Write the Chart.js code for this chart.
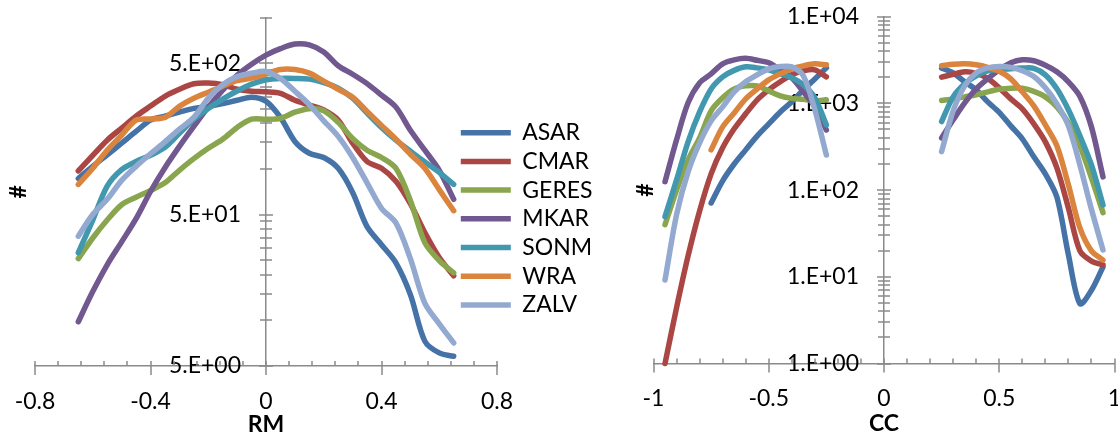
<!DOCTYPE html>
<html><head><meta charset="utf-8">
<script src="https://cdn.jsdelivr.net/npm/chart.js@4.4.1/dist/chart.umd.min.js"></script>
<style>
html,body{margin:0;padding:0;background:#fff;}
#wrap{position:relative;width:1118px;height:437px;overflow:hidden;background:#fff;}
canvas{position:absolute;left:0;top:0;}
</style></head><body>
<div id="wrap"><canvas id="rm" width="1118" height="437"></canvas><canvas id="cc" width="1118" height="437"></canvas></div>
<script>
// ---------- series ----------
const seriesNames  = ['ASAR','CMAR','GERES','MKAR','SONM','WRA','ZALV'];
const seriesColors = ['#4572A7','#AA4643','#89A54E','#71588F','#4198AF','#DB843D','#93A9CF'];

// ---------- left panel: RM ----------
const rmX = [-0.65,-0.6,-0.55,-0.5,-0.45,-0.4,-0.35,-0.3,-0.25,-0.2,-0.15,-0.1,-0.05,0,0.05,0.1,0.15,0.2,0.25,0.3,0.35,0.4,0.45,0.5,0.55,0.6,0.65];
const rmASAR  = [86.5,104,124,148,177,210,223,237,251,259,270,284,298,280,219,152,127,119,101,70,41.6,31.6,24,14.8,7.3,6.1,5.8];
const rmCMAR  = [97,123,155,186,223,260,302,336,365,369,360,336,326,323,316,284,264,245,210,148,112,101,83,59,38,26,19.7];
const rmGERES = [25.6,35,46,58,65,72,81,98,117,137,157,188,213,213,216,237,250,242,203,159,133,119,101,62,32.6,24.8,20.6];
const rmMKAR  = [9.8,15.5,23.3,33,47,71,102,141,191,256,331,416,492,565,623,668,659,591,480,422,366,307,256,180,133,98,63];
const rmSONM  = [28,46,77,99,112,123,139,172,213,251,289,327,363,388,396,396,392,371,341,293,234,188,155,131,111,95,79];
const rmWRA   = [79,101,133,167,210,214,219,259,293,321,352,383,398,423,453,453,429,380,336,298,240,194,157,125,101,73,53];
const rmZALV  = [36,50,63,84,104,126,151,183,219,293,360,407,429,440,396,326,266,208,164,119,81,55,44,25.6,13,9.5,7.1];

const rmXTicks      = [-0.8,-0.4,0,0.4,0.8];
const rmXTickLabels = ['-0.8','-0.4','0','0.4','0.8'];
const rmXMinorTicks = [-0.72,-0.64,-0.56,-0.48,-0.32,-0.24,-0.16,-0.08,0.08,0.16,0.24,0.32,0.48,0.56,0.64,0.72];
const rmYTicks      = [5,50,500];
const rmYTickLabels = ['5.E+00','5.E+01','5.E+02'];
const rmYMinorTicks = [10,15,20,25,30,35,40,45,100,150,200,250,300,350,400,450,1000];

// ---------- right panel: CC ----------
const ccX = [-0.95,-0.9,-0.85,-0.8,-0.75,-0.7,-0.65,-0.6,-0.55,-0.5,-0.45,-0.4,-0.35,-0.3,-0.25,
             0.25,0.3,0.35,0.4,0.45,0.5,0.55,0.6,0.65,0.7,0.75,0.8,0.85,0.9,0.95];
const ccASAR  = [null,null,null,null,71,128,200,291,422,581,798,1042,1433,1917,2570,
                 2553,2253,1775,1433,1042,788,550,390,242,154,83,18,4.9,7,13];
const ccCMAR  = [1.0,4.4,17.4,57.5,154,307,509,759,1100,1433,1774,2138,2376,2440,2024,
                 2010,2163,2312,2222,1945,1512,1128,865,581,360,180,62,19.9,15.2,13.7];
const ccGERES = [40,100,223,400,820,1160,1470,1593,1593,1395,1222,1143,1113,1070,1100,
                 1079,1128,1189,1255,1359,1453,1500,1492,1377,1189,912,597,324,138,55];
const ccMKAR  = [125,380,1015,1725,2190,2860,3180,3310,3140,2940,2440,1970,1360,912,494,
                 400,646,1015,1472,1920,2440,2938,3183,3100,2750,2313,1774,1205,536,142];
const ccSONM  = [49.5,131,360,798,1470,2025,2405,2640,2570,2440,2195,1973,1636,1158,565,
                 618,1190,1682,2080,2375,2440,2515,2553,2540,2136,1472,843,422,195,67.5];
const ccWRA   = [null,null,null,null,291,536,777,1128,1472,1870,2195,2505,2713,2860,2785,
                 2713,2820,2860,2785,2606,2344,1920,1360,937,565,324,115,36.6,19.9,15.6];
const ccZALV  = [9.2,52,162,350,629,912,1360,1775,2140,2507,2660,2640,2080,843,254,
                 278,820,1594,2252,2570,2662,2605,2376,2042,1512,988,551,195,60,20.4];

const ccXTicks      = [-1,-0.5,0,0.5,1];
const ccXTickLabels = ['-1','-0.5','0','0.5','1'];
const ccXMinorTicks = [-0.9,-0.8,-0.7,-0.6,-0.4,-0.3,-0.2,-0.1,0.1,0.2,0.3,0.4,0.6,0.7,0.8,0.9];
const ccYTicks      = [1,10,100,1000,10000];
const ccYTickLabels = ['1.E+00','1.E+01','1.E+02','1.E+03','1.E+04'];
const ccYMinorTicks = [2,3,4,5,6,7,8,9,20,30,40,50,60,70,80,90,200,300,400,500,600,700,800,900,2000,3000,4000,5000,6000,7000,8000,9000];

// ---------- common ----------
Chart.defaults.font.family = 'Lato';
Chart.defaults.font.size = 23;
Chart.defaults.color = '#000';
const AXIS = '#8a8a8a';

const rmSeries = [rmASAR,rmCMAR,rmGERES,rmMKAR,rmSONM,rmWRA,rmZALV];
const ccSeries = [ccASAR,ccCMAR,ccGERES,ccMKAR,ccSONM,ccWRA,ccZALV];

function lineDataset(i, data) {
  return {
    label: seriesNames[i], data, xAxisID: 'x', yAxisID: 'y',
    borderColor: seriesColors[i], backgroundColor: seriesColors[i],
    borderWidth: 5.5, pointRadius: 0, pointHoverRadius: 0, tension: 0.3,
    borderCapStyle: 'round', borderJoinStyle: 'round', fill: false,
    spanGaps: false, clip: false, order: seriesNames.length - i
  };
}
function rmPoints(arr) { return rmX.map((x, i) => ({x, y: arr[i]})); }
function ccPoints(arr) {
  const pts = [];
  ccX.forEach((x, i) => {
    if (i > 0 && ccX[i - 1] < 0 && x > 0) pts.push({x: 0, y: null});
    pts.push({x, y: arr[i]});
  });
  return pts;
}

const axisDeco = {
  id: 'axisDeco',
  afterLayout(chart, args, o) {
    const yt = chart.scales.yt;
    if (yt) { yt.left = o.titleX - 11.5; yt.right = yt.left + 23; }
    if (o.legendTop != null && chart.legend) {
      const h = chart.legend.bottom - chart.legend.top;
      chart.legend.top = o.legendTop; chart.legend.bottom = o.legendTop + h;
    }
  },
  beforeDatasetsDraw(chart, args, o) {
    const ctx = chart.ctx, xs = chart.scales.x, ys = chart.scales.y;
    const ay = chart.chartArea.bottom, ax = xs.getPixelForValue(0);
    ctx.save();
    ctx.strokeStyle = AXIS; ctx.lineWidth = 1.5; ctx.lineCap = 'butt';
    ctx.beginPath();
    o.xMinor.forEach(v => { const p = Math.round(xs.getPixelForValue(v)); ctx.moveTo(p, ay - 5); ctx.lineTo(p, ay); });
    o.xMajor.forEach(v => { const p = Math.round(xs.getPixelForValue(v)); ctx.moveTo(p, ay - 5); ctx.lineTo(p, ay + 9); });
    o.yMinor.forEach(v => { const p = Math.round(ys.getPixelForValue(v)); ctx.moveTo(ax - 6, p); ctx.lineTo(ax + 6, p); });
    o.yMajor.forEach(v => { const p = Math.round(ys.getPixelForValue(v)); ctx.moveTo(ax - 7, p); ctx.lineTo(ax + 7, p); });
    ctx.stroke();
    ctx.restore();
  }
};

function zeroPad(s) { s.paddingLeft = 0; s.paddingRight = 0; s.paddingTop = 0; s.paddingBottom = 0; }

function makeScales(cfg) {
  return {
    x: {
      type: 'linear', position: 'bottom', min: cfg.xMin, max: cfg.xMax,
      afterBuildTicks: s => { s.ticks = cfg.xTicks.map(v => ({value: v})); },
      afterFit: s => { s.height = cfg.xHeight; zeroPad(s); },
      ticks: { autoSkip: false, maxRotation: 0, padding: cfg.xLabelPad,
               callback: (v, i) => cfg.xLabels[i] },
      grid: { display: true, drawOnChartArea: false, drawTicks: false, color: 'rgba(0,0,0,0)' },
      border: { display: true, color: AXIS, width: 1.5 },
      title: { display: true, text: cfg.xTitle, font: {weight: 'bold', size: 23, lineHeight: 1},
               padding: {top: 0, bottom: cfg.xTitlePad} }
    },
    y: {
      type: 'logarithmic', position: 'center', min: cfg.yMin, max: cfg.yMax,
      afterBuildTicks: s => { s.ticks = cfg.yTicks.concat(cfg.yMinor).sort((a, b) => a - b).map(v => ({value: v})); },
      afterFit: s => { zeroPad(s); },
      ticks: { autoSkip: false, padding: 25,
               callback: v => { const k = cfg.yTicks.indexOf(v); return k >= 0 ? cfg.yLabels[k] : ''; } },
      grid: { display: true, drawOnChartArea: false, drawTicks: false, color: 'rgba(0,0,0,0)' },
      border: { display: true, color: AXIS, width: 1.5 }
    },
    yt: {
      type: 'linear', position: 'left', display: true,
      afterFit: cfg.ytFit,
      ticks: { display: false },
      grid: { display: false, drawTicks: false },
      border: { display: false },
      title: { display: true, text: '#', font: {weight: 'bold', size: 23, lineHeight: 1}, padding: 0 }
    }
  };
}

// ---------- left chart ----------
new Chart(document.getElementById('rm'), {
  type: 'line',
  data: { datasets: rmSeries.map((arr, i) => lineDataset(i, rmPoints(arr))) },
  options: {
    responsive: false, animation: false, devicePixelRatio: 1,
    layout: { padding: { left: 0, right: 621, top: 17.5, bottom: 0 } },
    plugins: {
      legend: { display: false }, tooltip: { enabled: false },
      axisDeco: { titleX: 19, xMajor: rmXTicks, xMinor: rmXMinorTicks, yMajor: rmYTicks, yMinor: rmYMinorTicks }
    },
    scales: makeScales({
      xMin: -0.8, xMax: 0.8, xTicks: rmXTicks, xLabels: rmXTickLabels, xTitle: 'RM',
      xHeight: 71, xLabelPad: 22, xTitlePad: 0.7,
      yMin: 5, yMax: 1000, yTicks: rmYTicks, yLabels: rmYTickLabels, yMinor: rmYMinorTicks,
      ytFit: s => { s.width = 35; }
    })
  },
  plugins: [axisDeco]
});

// ---------- right chart ----------
const CC_AREA_LEFT = 653.5, CC_PAD_LEFT = 455.1;
new Chart(document.getElementById('cc'), {
  type: 'line',
  data: { datasets: ccSeries.map((arr, i) => lineDataset(i, ccPoints(arr))) },
  options: {
    responsive: false, animation: false, devicePixelRatio: 1,
    layout: { padding: { left: CC_PAD_LEFT, right: 3.5, top: 16.7, bottom: 0 } },
    plugins: {
      tooltip: { enabled: false },
      legend: {
        display: true, position: 'left', align: 'start', maxWidth: 400,
        labels: { usePointStyle: true, pointStyle: 'line', pointStyleWidth: 50, padding: 5.7,
                  textAlign: 'left', color: '#000', font: {size: 23},
                  sort: (a, b) => a.datasetIndex - b.datasetIndex }
      },
      axisDeco: { titleX: 645.5, legendTop: 115.5, xMajor: ccXTicks, xMinor: ccXMinorTicks, yMajor: ccYTicks, yMinor: ccYMinorTicks }
    },
    scales: makeScales({
      xMin: -1, xMax: 1, xTicks: ccXTicks, xLabels: ccXTickLabels, xTitle: 'CC',
      xHeight: 73.5, xLabelPad: 21, xTitlePad: 1.7,
      yMin: 1, yMax: 10000, yTicks: ccYTicks, yLabels: ccYTickLabels, yMinor: ccYMinorTicks,
      ytFit: s => { s.width = Math.max(1, CC_AREA_LEFT - CC_PAD_LEFT - s.chart.legend.width); }
    })
  },
  plugins: [axisDeco]
});
</script>
</body></html>
